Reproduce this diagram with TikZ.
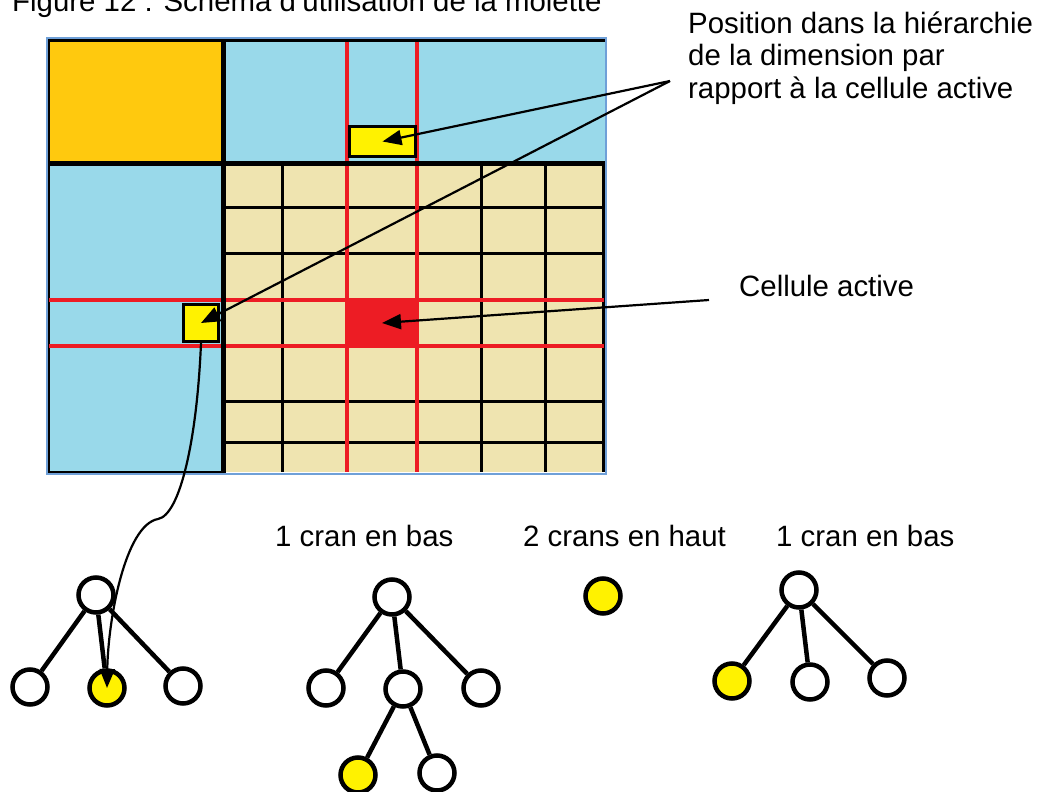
\documentclass[tikz,border=0pt]{standalone}
\usepackage{fontspec}
\setmainfont{Liberation Sans}
\usetikzlibrary{arrows.meta}
\definecolor{orangec}{HTML}{FFC90E}
\definecolor{bluec}{HTML}{99D9EA}
\definecolor{beigec}{HTML}{EFE4B0}
\definecolor{redc}{HTML}{ED1C24}
\definecolor{yellowc}{HTML}{FFF200}
\definecolor{framec}{HTML}{6FA0D8}
\begin{document}
\begin{tikzpicture}[x=1pt,y=-1pt,
  lbl/.style={font=\fontsize{29.4}{33}\selectfont, inner sep=0pt, anchor=base west, align=left},
  tn/.style={circle, draw, line width=4.5pt, minimum size=35pt, inner sep=0pt, fill=white},
  tny/.style={tn, fill=yellowc},
  edge/.style={line width=4.5pt},
  arr/.style={line width=2.2pt, -{Triangle[length=19pt,width=15pt]}},
  thinl/.style={line width=3pt},
  thickl/.style={line width=5pt},
  redl/.style={draw=redc, line width=3.5pt},
  ybox/.style={draw, line width=3pt, fill=yellowc, inner sep=0pt},
]
\useasboundingbox (0,0) rectangle (1042,792);
\clip (0,0) rectangle (1042,792);

\node[lbl] (title) at (12,12) {Figure 12 : Schéma d'utilisation de la molette};

% cells
\fill[orangec] (49,42) rectangle (223,163);
\fill[bluec] (223,42) rectangle (605,163);
\fill[bluec] (49,163) rectangle (223,472);
\fill[beigec] (223,163) rectangle (604,472);
\node[fill=redc, minimum width=70pt, minimum height=46pt, inner sep=0pt] (rc) at (382,323) {};

% black lines
\draw[line width=3pt] (48,40.5) -- (606,40.5);
\draw[line width=2pt] (49,40) -- (49,472) -- (223,472);
\foreach \x in {282,481,545,603} \draw[thinl] (\x,163) -- (\x,472);
\foreach \y in {207,253,401,442} \draw[thinl] (223,\y) -- (604,\y);
% red lines
\foreach \x in {347,417} \draw[redl] (\x,42) -- (\x,472);
\foreach \y in {300,346} \draw[redl] (49,\y) -- (604,\y);
% thick lines
\draw[thickl] (223,40) -- (223,473);
\draw[thickl] (47,163) -- (605,163);
% frame
\draw[framec, line width=2.5pt] (47,38) rectangle (606,474);

% yellow boxes
\node[ybox, minimum width=66pt, minimum height=30pt] (yb1) at (382.5,141.5) {};
\node[ybox, minimum width=35pt, minimum height=37pt] (yb2) at (201,323) {};

% labels
\node[lbl] (pos) at (688,99) {Position dans la hiérarchie\\de la dimension par\\rapport à la cellule active};
\node[lbl] (ca) at (739,296) {Cellule active};
\node[lbl] (l1) at (275,546) {1 cran en bas};
\node[lbl] (l2) at (523,546) {2 crans en haut};
\node[lbl] (l3) at (776,546) {1 cran en bas};

% trees
\node[tn] (t1r) at (96,595) {};
\node[tn] (t1a) at (30,687) {};
\node[tny] (t1b) at (107,688) {};
\node[tn] (t1c) at (183,686) {};
\draw[edge] (t1r) -- (t1a);
\draw[edge] (t1r) -- (t1b);
\draw[edge] (t1r) -- (t1c);

\node[tn] (t2r) at (392,597) {};
\node[tn] (t2a) at (326,688) {};
\node[tn] (t2b) at (403,689) {};
\node[tn] (t2c) at (481,688) {};
\node[tny] (t2d) at (358,775) {};
\node[tn] (t2e) at (437,773) {};
\draw[edge] (t2r) -- (t2a);
\draw[edge] (t2r) -- (t2b);
\draw[edge] (t2r) -- (t2c);
\draw[edge] (t2b) -- (t2d);
\draw[edge] (t2b) -- (t2e);

\node[tny] (t3) at (603,596) {};

\node[tn] (t4r) at (799,590) {};
\node[tny] (t4a) at (732,681) {};
\node[tn] (t4b) at (810,682) {};
\node[tn] (t4c) at (887,678) {};
\draw[edge] (t4r) -- (t4a);
\draw[edge] (t4r) -- (t4b);
\draw[edge] (t4r) -- (t4c);

% connectors
\coordinate (p) at (670,81);
\coordinate (cp) at (709,300);
\draw[arr] (p) -- (yb1.center);
\draw[arr] (p) -- (yb2.center);
\draw[arr] (cp) -- (rc.center);
\draw[arr] (yb2.south) .. controls (197,440) and (180,515) .. (158,519) .. controls (125,525) and (108,620) .. (t1b.center);
\end{tikzpicture}
\end{document}
